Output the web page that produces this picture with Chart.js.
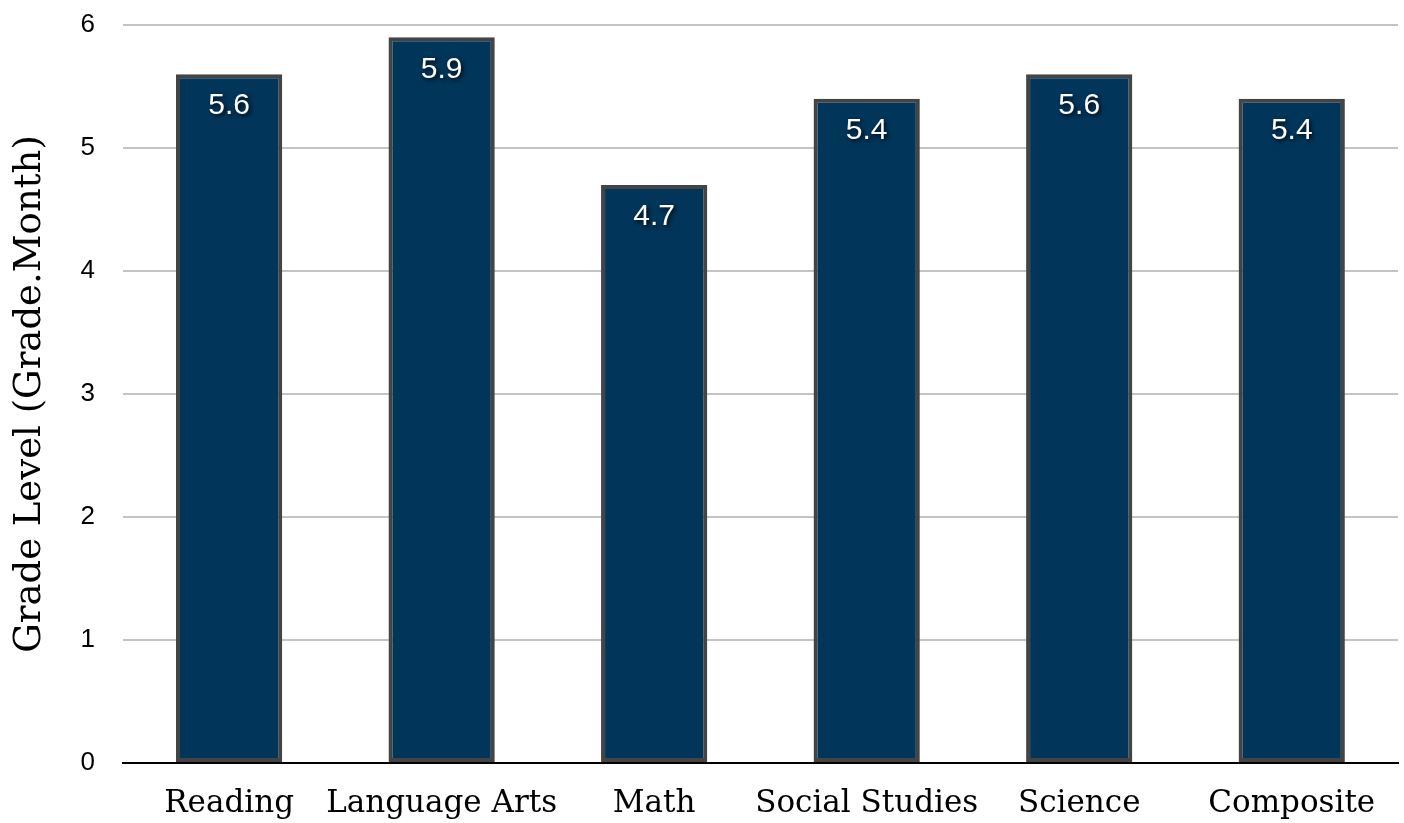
<!DOCTYPE html>
<html>
<head>
<meta charset="utf-8">
<script src="https://cdn.jsdelivr.net/npm/chart.js@4.4.0/dist/chart.umd.min.js"></script>
<style>
    html, body { margin: 0; padding: 0; background: #ffffff; }
    #wrap { width: 1404px; height: 823px; position: relative; }
</style>
</head>
<body>
<div id="wrap"><canvas id="gradeChart"></canvas></div>
<script>
// Données du graphique
const subjects = ['Reading', 'Language Arts', 'Math', 'Social Studies', 'Science', 'Composite'];
const gradeLevels = [5.6, 5.9, 4.7, 5.4, 5.6, 5.4];
const yTicks = [0, 1, 2, 3, 4, 5, 6];

// Étiquettes blanches en haut de chaque barre
const barLabels = {
    id: 'barLabels',
    afterDatasetsDraw(chart) {
        const ctx = chart.ctx;
        const meta = chart.getDatasetMeta(0);
        ctx.save();
        ctx.font = '30px "Liberation Sans", Arial, sans-serif';
        ctx.fillStyle = '#ffffff';
        ctx.textAlign = 'center';
        ctx.textBaseline = 'middle';
        ctx.shadowColor = 'rgba(0,0,0,0.85)';
        ctx.shadowBlur = 4;
        ctx.shadowOffsetX = 2;
        ctx.shadowOffsetY = 2;
        meta.data.forEach((bar, i) => {
            ctx.fillText(gradeLevels[i].toFixed(1), bar.x, bar.y + 32);
        });
        ctx.restore();
    }
};

const ctx = document.getElementById('gradeChart').getContext('2d');
new Chart(ctx, {
    type: 'bar',
    data: {
        labels: subjects,
        datasets: [{
            data: gradeLevels,
            backgroundColor: '#02355a',
            borderColor: '#444444',
            borderWidth: 4,
            borderSkipped: false,
            categoryPercentage: 1.0,
            barPercentage: 0.5
        }]
    },
    options: {
        responsive: true,
        maintainAspectRatio: false,
        animation: false,
        layout: { padding: { top: 25, right: 6, left: 0, bottom: 0 } },
        plugins: {
            legend: { display: false },
            tooltip: { enabled: false }
        },
        scales: {
            x: {
                grid: { display: false, drawTicks: false },
                border: { display: true, color: '#000000', width: 2 },
                afterFit(axis) {
                    axis.height = 60;
                },
                ticks: {
                    color: '#000000',
                    padding: 22,
                    maxRotation: 0,
                    minRotation: 0,
                    autoSkip: false,
                    font: { family: '"DejaVu Serif", Georgia, serif', size: 31 }
                }
            },
            y: {
                min: 0,
                max: 6,
                afterBuildTicks(axis) {
                    axis.ticks = yTicks.map(v => ({ value: v }));
                },
                afterFit(axis) {
                    axis.width += 24;
                },
                // marques invisibles : elles créent l'espace entre chiffres et grille
                grid: { color: '#c4c4c4', lineWidth: 2, drawTicks: true, tickLength: 24, tickColor: 'rgba(0,0,0,0)' },
                border: { display: false },
                ticks: {
                    color: '#000000',
                    padding: 4,
                    font: { family: '"Liberation Sans", Arial, sans-serif', size: 26 }
                },
                title: {
                    display: true,
                    text: 'Grade Level (Grade.Month)',
                    color: '#000000',
                    padding: { top: 8, bottom: 0 },
                    font: { family: '"DejaVu Serif", Georgia, serif', size: 37 }
                }
            }
        }
    },
    plugins: [barLabels]
});
</script>
</body>
</html>
